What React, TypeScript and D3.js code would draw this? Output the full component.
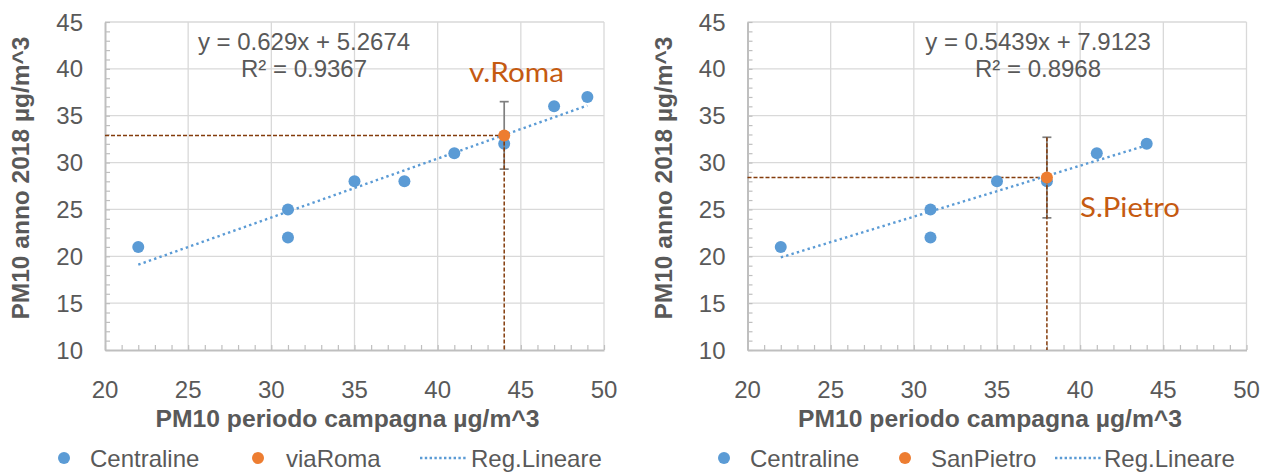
import React, { useEffect, useRef } from "react";
import * as d3 from "d3";

// Centraline stations (campaign period vs annual 2018)
const centralineLeftX = [22, 31, 31, 35, 38, 41, 44, 47, 49];
const centralineLeftY = [21, 25, 22, 28, 28, 31, 32, 36, 37];
const centralineRightX = [22, 31, 31, 35, 38, 41, 44];
const centralineRightY = [21, 25, 22, 28, 28, 31, 32];

// highlighted sites
const viaRoma = { x: 44, y: 32.9, err: 3.6 };
const sanPietro = { x: 38, y: 28.4, err: 4.3 };

const regLeft = { slope: 0.629, intercept: 5.2674, r2: "0.9367", eq: "y = 0.629x + 5.2674" };
const regRight = { slope: 0.5439, intercept: 7.9123, r2: "0.8968", eq: "y = 0.5439x + 7.9123" };

const xTicks = [20, 25, 30, 35, 40, 45, 50];
const yTicks = [10, 15, 20, 25, 30, 35, 40, 45];

const BLUE = "#5B9BD5";
const ORANGE = "#ED7D31";
const BROWN = "#843C0C";
const TEXT = "#595959";
const GRID = "#D9D9D9";
const AXIS = "#BFBFBF";
const FONT = "'Liberation Sans', Arial, sans-serif";

function drawPanel(svg, cfg) {
  const x = d3.scaleLinear().domain([20, 50]).range([cfg.left, cfg.left + 499]);
  const y = d3.scaleLinear().domain([10, 45]).range([350, 22]);
  const g = svg.append("g");

  // grid
  g.selectAll(".gy")
    .data(yTicks.slice(1))
    .join("line")
    .attr("x1", x(20)).attr("x2", x(50))
    .attr("y1", (d) => y(d)).attr("y2", (d) => y(d))
    .attr("stroke", GRID).attr("stroke-width", 1.3);
  g.selectAll(".gx")
    .data(xTicks.slice(1))
    .join("line")
    .attr("y1", y(10)).attr("y2", y(45))
    .attr("x1", (d) => x(d)).attr("x2", (d) => x(d))
    .attr("stroke", GRID).attr("stroke-width", 1.3);

  // axes with minor ticks
  const xAxis = g.append("g").attr("transform", `translate(0,${y(10)})`)
    .call(d3.axisTop(x).tickValues(d3.range(20, 51, 1)).tickSize(5).tickSizeOuter(0).tickFormat(() => ""));
  const yAxis = g.append("g").attr("transform", `translate(${x(20)},0)`)
    .call(d3.axisRight(y).tickValues(d3.range(10, 46, 1)).tickSize(5).tickSizeOuter(0).tickFormat(() => ""));
  [xAxis, yAxis].forEach((a) => {
    a.selectAll("line").attr("stroke", AXIS).attr("stroke-width", 1.2);
    a.select(".domain").attr("stroke", AXIS).attr("stroke-width", 2);
  });

  // tick labels
  g.selectAll(".xl")
    .data(xTicks)
    .join("text")
    .attr("x", (d) => x(d)).attr("y", 398)
    .attr("text-anchor", "middle")
    .attr("font-family", FONT).attr("font-size", 24).attr("fill", TEXT)
    .text((d) => d);
  g.selectAll(".yl")
    .data(yTicks)
    .join("text")
    .attr("x", x(20) - 22).attr("y", (d) => y(d) + 8.5)
    .attr("text-anchor", "end")
    .attr("font-family", FONT).attr("font-size", 24).attr("fill", TEXT)
    .text((d) => d);

  // axis titles
  g.append("text")
    .attr("x", (x(20) + x(50)) / 2 - 7).attr("y", 427)
    .attr("text-anchor", "middle")
    .attr("font-family", FONT).attr("font-size", 24).attr("font-weight", "bold").attr("fill", TEXT)
    .attr("textLength", 384).attr("lengthAdjust", "spacingAndGlyphs")
    .text("PM10 periodo campagna µg/m^3");
  g.append("text")
    .attr("transform", `translate(${x(20) - 76},178) rotate(-90)`)
    .attr("text-anchor", "middle")
    .attr("font-family", FONT).attr("font-size", 24).attr("font-weight", "bold").attr("fill", TEXT)
    .attr("textLength", 283).attr("lengthAdjust", "spacingAndGlyphs")
    .text("PM10 anno 2018 µg/m^3");

  // guide lines to the highlighted site
  const h = cfg.site;
  g.append("line")
    .attr("x1", x(20)).attr("x2", x(h.x)).attr("y1", y(h.y)).attr("y2", y(h.y))
    .attr("stroke", BROWN).attr("stroke-width", 1.5).attr("stroke-dasharray", "4 2");

  // regression line
  const xs = cfg.xs;
  const ext = d3.extent(xs);
  const line = d3.line().x((d) => x(d)).y((d) => y(cfg.reg.slope * d + cfg.reg.intercept));
  g.append("path")
    .attr("d", line(ext))
    .attr("fill", "none").attr("stroke", BLUE).attr("stroke-width", 2.4)
    .attr("stroke-dasharray", "2.4 3.2");

  // centraline points
  g.selectAll(".pt")
    .data(xs.map((v, i) => [v, cfg.ys[i]]))
    .join("circle")
    .attr("cx", (d) => x(d[0])).attr("cy", (d) => y(d[1])).attr("r", 6)
    .attr("fill", BLUE);

  // error bar
  const eb = g.append("g").attr("stroke", "#7F7F7F").attr("stroke-width", 1.7);
  eb.append("line").attr("x1", x(h.x)).attr("x2", x(h.x)).attr("y1", y(h.y + h.err)).attr("y2", y(h.y - h.err));
  [h.y + h.err, h.y - h.err].forEach((v) => {
    eb.append("line").attr("x1", x(h.x) - 4.5).attr("x2", x(h.x) + 4.5).attr("y1", y(v)).attr("y2", y(v));
  });

  g.append("line")
    .attr("x1", x(h.x)).attr("x2", x(h.x))
    .attr("y1", cfg.guideFromTop ? y(h.y + h.err) : y(h.y)).attr("y2", y(10))
    .attr("stroke", BROWN).attr("stroke-width", 1.5).attr("stroke-dasharray", "4 2");

  g.append("circle")
    .attr("cx", x(h.x)).attr("cy", y(h.y)).attr("r", 6).attr("fill", ORANGE);

  // equation
  g.append("text")
    .attr("x", cfg.eqX).attr("y", 50).attr("text-anchor", "middle")
    .attr("font-family", FONT).attr("font-size", 24).attr("fill", TEXT)
    .text(cfg.reg.eq);
  g.append("text")
    .attr("x", cfg.eqX).attr("y", 77).attr("text-anchor", "middle")
    .attr("font-family", FONT).attr("font-size", 24).attr("fill", TEXT)
    .text(`R² = ${cfg.reg.r2}`);

  // site label
  g.append("text")
    .attr("x", cfg.labelX).attr("y", cfg.labelY)
    .attr("font-family", "Lato, 'Open Sans', sans-serif").attr("font-size", 26).attr("fill", "#C55A11")
    .attr("textLength", cfg.labelW).attr("lengthAdjust", "spacingAndGlyphs")
    .text(cfg.label);

  // legend
  const lg = g.append("g").attr("font-family", FONT).attr("font-size", 24).attr("fill", TEXT);
  const L = cfg.legend;
  lg.append("circle").attr("cx", L[0]).attr("cy", 458).attr("r", 6).attr("fill", BLUE);
  lg.append("text").attr("x", L[1]).attr("y", 466.5).text("Centraline");
  lg.append("circle").attr("cx", L[2]).attr("cy", 458).attr("r", 6).attr("fill", ORANGE);
  lg.append("text").attr("x", L[3]).attr("y", 466.5).text(cfg.legendName);
  lg.append("line").attr("x1", L[4]).attr("x2", L[4] + 46).attr("y1", 458).attr("y2", 458)
    .attr("stroke", BLUE).attr("stroke-width", 2.4).attr("stroke-dasharray", "2.4 2.4");
  lg.append("text").attr("x", L[5]).attr("y", 466.5).text("Reg.Lineare");
}

export default function App() {
  const ref = useRef(null);

  useEffect(() => {
    const svg = d3.select(ref.current);
    svg.selectAll("*").remove();
    drawPanel(svg, {
      left: 105,
      xs: centralineLeftX,
      ys: centralineLeftY,
      site: viaRoma,
      reg: regLeft,
      eqX: 304,
      label: "v.Roma",
      labelX: 469,
      labelY: 82,
      labelW: 95,
      guideFromTop: false,
      legendName: "viaRoma",
      legend: [64, 90, 258, 286, 420, 471],
    });
    drawPanel(svg, {
      left: 747.5,
      xs: centralineRightX,
      ys: centralineRightY,
      site: sanPietro,
      reg: regRight,
      eqX: 1038,
      label: "S.Pietro",
      labelX: 1080,
      labelY: 217,
      labelW: 100,
      guideFromTop: true,
      legendName: "SanPietro",
      legend: [724, 750, 905, 931, 1055, 1104],
    });
  }, []);

  return (
    <svg
      ref={ref}
      width={1271}
      height={473}
      style={{ position: "absolute", left: 0, top: 0, background: "#fff" }}
    />
  );
}
